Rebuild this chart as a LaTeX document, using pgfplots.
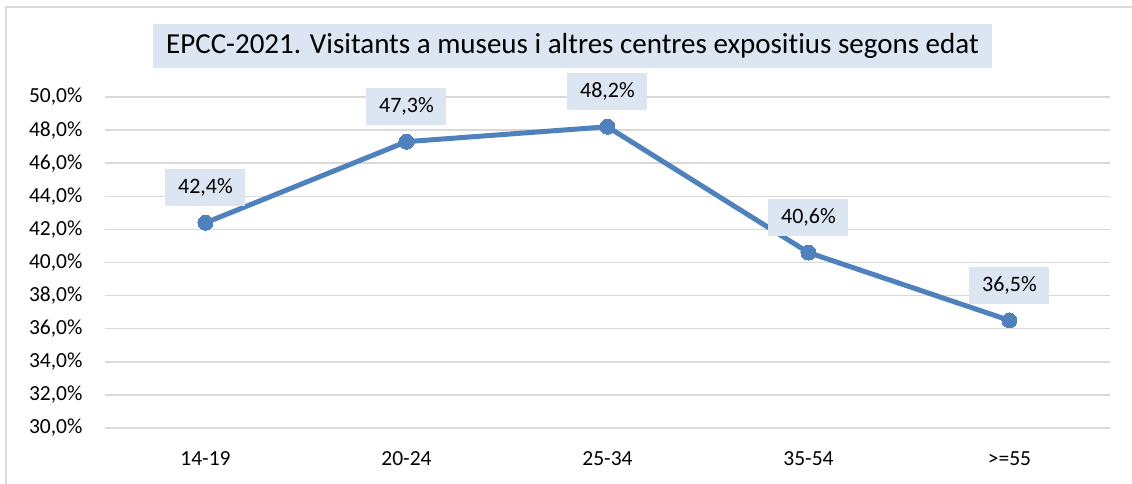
\documentclass[border=0pt]{standalone}
\usepackage{fontspec}
\setmainfont{Carlito}[Ligatures={NoCommon,NoRequired,NoContextual}]
\usepackage{pgfplots}
\pgfplotsset{compat=1.18}
\usepackage{pgfplotstable}
\definecolor{lineblue}{RGB}{79,129,189}
\definecolor{boxblue}{RGB}{220,230,242}
\definecolor{gridgray}{RGB}{217,217,217}
\pgfplotstableread{
x y lab
0 42.4 42,4
1 47.3 47,3
2 48.2 48,2
3 40.6 40,6
4 36.5 36,5
}\datatable
\begin{document}
\begin{tikzpicture}[x=1pt,y=1pt]
\useasboundingbox (0,0) rectangle (1132,484);
\draw[gridgray,line width=2pt] (6,0) -- (6,477) -- (1132,477);
\node[fill=boxblue, text=black, minimum width=839pt, minimum height=44pt, inner sep=0pt,
  font=\fontsize{29}{32}\selectfont] at (572.5,438) {EPCC-2021. Visitants a museus i altres centres exposit\kern0pt ius segons edat};
\begin{axis}[at={(105pt,56pt)}, anchor=south west, scale only axis,
  width=1005pt, height=331pt,
  xmin=-0.5, xmax=4.5, ymin=30, ymax=50,
  ytick={30,32,34,36,38,40,42,44,46,48,50},
  xtick={0,1,2,3,4},
  xticklabels={14-19,20-24,25-34,35-54,>=55},
  axis line style={draw=none},
  major tick length=0pt,
  ymajorgrids,
  grid style={gridgray, line width=1.5pt},
  /pgf/number format/assume math mode=true,
  yticklabel={\pgfmathprintnumber[fixed,fixed zerofill,precision=1,use comma]{\tick}\%},
  ticklabel style={font=\fontsize{21.5}{24}\selectfont, text=black},
  yticklabel style={xshift=-19pt},
  xticklabel style={yshift=-20pt},
  clip=false]
\addplot[lineblue, line width=5pt, line join=round,
  mark=*, mark size=7.5pt,
  mark options={fill=lineblue, draw=lineblue, line width=0pt},
  point meta=explicit symbolic,
  nodes near coords={\pgfplotspointmeta\%},
  every node near coord/.style={fill=boxblue, text=black, anchor=center, yshift=35pt,
    minimum width=80pt, minimum height=37pt, inner sep=2pt,
    font=\fontsize{22}{24}\selectfont}]
  table[x=x, y=y, meta=lab] {\datatable};
\end{axis}
\end{tikzpicture}
\end{document}
